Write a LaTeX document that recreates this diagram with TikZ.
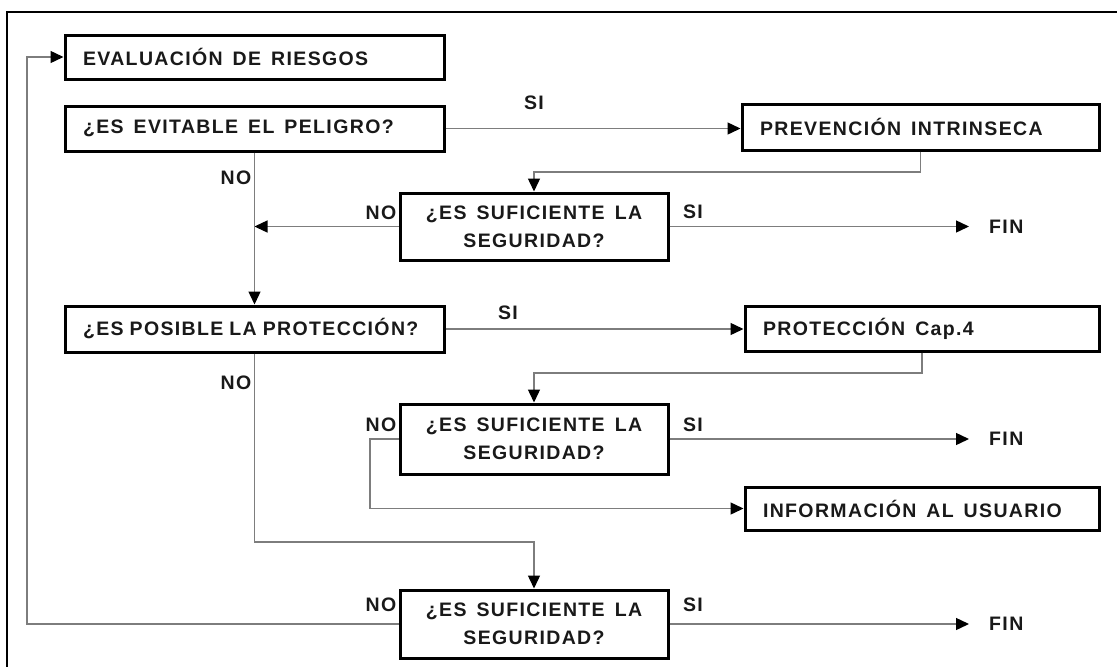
\documentclass[tikz,border=0pt]{standalone}
\usepackage{fontspec}
\setmainfont{Liberation Sans}[LetterSpace=7]
\usetikzlibrary{arrows.meta}
\definecolor{wire}{RGB}{125,125,125}
% wide word spacing for the flowchart lettering
\newcommand{\widewords}{\spaceskip=10pt plus 2pt\relax}
\newcommand{\tightwords}{\spaceskip=6pt plus 2pt\relax}
\begin{document}
\begin{tikzpicture}[x=1pt,y=-1pt,
  txt/.style={font=\fontsize{19.5}{28}\selectfont\bfseries, text=black!90,
              execute at begin node=\widewords},
  box/.style={txt, draw=black, line width=3pt, rectangle, inner ysep=0pt},
  lbox/.style={box, align=left, inner xsep=18pt},
  qbox/.style={box, align=center, minimum width=268pt, inner xsep=0pt},
  lab/.style={txt, inner sep=0pt},
  wire/.style={draw=wire, line width=1.4pt},
  arr/.style={wire, -{Triangle[length=13pt,width=12pt,color=black]}}
]
\useasboundingbox (0,0) rectangle (1117,667);
% outer frame
\draw[line width=2.6pt] (1117,12) -- (7,12) -- (7,667);

% process and decision boxes
\node[lbox, text width=343pt, minimum height=44pt] (eval) at (254.5,57) {EVALUACIÓN DE RIESGOS};
\node[lbox, text width=343pt, minimum height=45pt] (evit) at (254.5,128.5) {¿ES EVITABLE EL PELIGRO?};
\node[lbox, text width=321pt, minimum height=46pt] (prev) at (920.5,127) {PREVENCIÓN INTRINSECA};
\node[qbox, minimum height=67pt] (suf1) at (534,226.5) {¿ES SUFICIENTE LA\\SEGURIDAD?};
\node[lbox, text width=343pt, minimum height=46pt, execute at begin node=\tightwords] (posib) at (254.5,329) {¿ES POSIBLE LA PROTECCIÓN?};
\node[lbox, text width=318pt, minimum height=45pt] (prot) at (922,328.5) {PROTECCIÓN Cap.4};
\node[qbox, minimum height=70pt] (suf2) at (534,439) {¿ES SUFICIENTE LA\\SEGURIDAD?};
\node[lbox, text width=318pt, minimum height=43pt] (info) at (922,508.5) {INFORMACIÓN AL USUARIO};
\node[qbox, minimum height=68pt] (suf3) at (534,624) {¿ES SUFICIENTE LA\\SEGURIDAD?};

% end markers
\node[lab, anchor=west] (fin1) at (989,226.5) {FIN};
\node[lab, anchor=west] (fin2) at (989,439) {FIN};
\node[lab, anchor=west] (fin3) at (989,624) {FIN};

% route corners
\coordinate (c1) at (prev.south |- 0,172);
\coordinate (c2) at (suf1.north |- 0,172);
\coordinate (c3) at (evit.south |- suf1.west);
\coordinate (c4) at (prot.south |- 0,373);
\coordinate (c5) at (suf2.north |- 0,373);
\coordinate (c6) at (370,439);
\coordinate (c7) at (370,508.5);
\coordinate (c8) at (posib.south |- 0,542);
\coordinate (c9) at (suf3.north |- 0,542);
\coordinate (c10) at (27,624);
\coordinate (c11) at (27,57);

% connectors
\draw[arr] (evit.east) -- (evit.east -| prev.west);
\draw[arr] (prev.south) -- (c1) -- (c2) -- (suf1.north);
\draw[arr, shorten >=20pt] (suf1.east) -- (fin1.west);
\draw[arr] (suf1.west) -- (c3);
\draw[arr] (evit.south) -- (posib.north);
\draw[arr] (posib.east) -- (posib.east -| prot.west);
\draw[arr] (prot.south) -- (c4) -- (c5) -- (suf2.north);
\draw[arr, shorten >=20pt] (suf2.east) -- (fin2.west);
\draw[arr] (suf2.west) -- (c6) -- (c7) -- (info.west);
\draw[arr] (posib.south) -- (c8) -- (c9) -- (suf3.north);
\draw[arr, shorten >=20pt] (suf3.east) -- (fin3.west);
\draw[arr] (suf3.west) -- (c10) -- (c11) -- (eval.west);

% branch labels
\node[lab] (si1) at (534,103) {SI};
\node[lab] (no1) at (236,178) {NO};
\node[lab] (no2) at (381,213) {NO};
\node[lab] (si2) at (693,212) {SI};
\node[lab] (si3) at (508,313) {SI};
\node[lab] (no3) at (236,383) {NO};
\node[lab] (no4) at (381,425) {NO};
\node[lab] (si4) at (693,425) {SI};
\node[lab] (no5) at (381,605) {NO};
\node[lab] (si5) at (693,605) {SI};
\end{tikzpicture}
\end{document}
